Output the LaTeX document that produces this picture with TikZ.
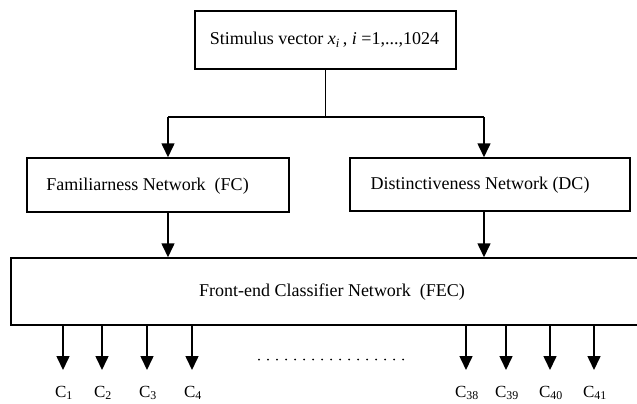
\documentclass[tikz,border=0pt]{standalone}
\usepackage{fontspec}
\setmainfont{Liberation Serif}
\usetikzlibrary{arrows.meta}
\begin{document}
\begin{tikzpicture}[x=1pt,y=-1pt,
  box/.style={draw, line width=1.5pt, rectangle, inner sep=0pt},
  txt/.style={font=\fontsize{18}{20}\selectfont, inner sep=0pt},
  clab/.style={font=\fontsize{17}{19}\selectfont, inner sep=0pt},
  conn/.style={line width=1.6pt},
  arr/.style={line width=1.6pt, -{Triangle[width=13pt,length=14pt]}}]
\useasboundingbox (0,0) rectangle (637,404);
\clip (0,0) rectangle (637,404);
% boxes
\node[box, minimum width=261pt, minimum height=58pt] (top) at (325.5,40) {};
\node[txt] (toptext) at (324.5,40) {Stimulus vector \textit{x}\textsubscript{\textit{i}}\,, \textit{i} =1,...,1024};
\node[box, minimum width=262pt, minimum height=54pt] (fc) at (158,185) {};
\node[txt] (fctext) at (147.5,186) {Familiarness Network\ \ (FC)};
\node[box, minimum width=280pt, minimum height=53pt] (dc) at (490,184.5) {};
\node[txt] (dctext) at (480,185) {Distinctiveness Network (DC)};
\node[box, minimum width=632pt, minimum height=67pt] (fec) at (327,291.5) {};
\node[txt] (fectext) at (332,292) {Front-end Classifier Network\ \ (FEC)};
% bus
\coordinate (busL) at (168,117);
\coordinate (busR) at (484,117);
\draw[conn] (top.south) -- (top.south |- busL);
\draw[conn] (busL) -- (busR);
\draw[arr] (busL) -- (busL |- fc.north);
\draw[arr] (busR) -- (busR |- dc.north);
\draw[arr] (fc.south -| busL) -- (fec.north -| busL);
\draw[arr] (dc.south -| busR) -- (fec.north -| busR);
% outputs
\foreach \x/\n/\s in {63/c1/1,102/c2/2,147/c3/3,192/c4/4,466/c38/38,506/c39/39,550/c40/40,594/c41/41}{
  \coordinate (\n tip) at (\x,370);
  \draw[arr] (fec.south -| \n tip) -- (\n tip);
  \node[clab] (\n) at (\x+1,393) {C\textsubscript{\s}};
}
% dots
\coordinate (dotA) at (259,359.5);
\coordinate (dotB) at (403,359.5);
\draw[line width=2pt, line cap=round, dash pattern=on 0pt off 9pt] (dotA) -- (dotB);
\end{tikzpicture}
\end{document}
